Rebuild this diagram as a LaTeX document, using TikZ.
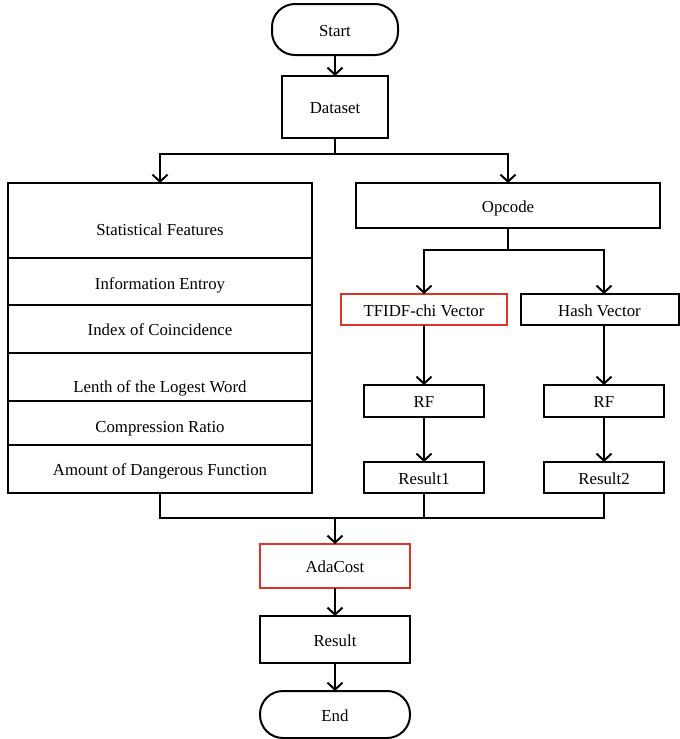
\documentclass[tikz,border=0pt]{standalone}
\usepackage{fontspec}
\setmainfont{Liberation Serif}
\usepackage{tikz}
\usetikzlibrary{shapes,arrows.meta}
\usetikzlibrary{positioning}
\definecolor{boxred}{RGB}{222,50,40}
\tikzstyle{block} = [draw, rectangle, line width=2pt, inner sep=0pt, outer sep=0pt,
text height=13pt, text depth=0pt]
\tikzstyle{terminal} = [block, rounded corners=23pt]
\tikzstyle{wire} = [draw, line width=2pt]
\tikzstyle{line} = [wire, -{Straight Barb[length=7pt,width=15pt]}]

\begin{document}
\begin{tikzpicture}[x=1pt, y=-1pt, font=\fontsize{16.8}{20}\selectfont,
	row/.style={block, minimum width=304pt},
	redbox/.style={block, draw=boxred}]
	\useasboundingbox (0,0) rectangle (680,739);
	\node [terminal, minimum width=126pt, minimum height=51pt] (start) at (335,29.5) {Start};
	\node [block, minimum width=106pt, minimum height=62pt] (data) at (335,107) {Dataset};
	%% statistical features
	\node [row, minimum height=75pt, text height=29pt] (sf) at (160,220.5) {Statistical Features};
	\node [row, minimum height=47pt, text height=16pt, below=0pt of sf] (ie) {Information Entroy};
	\node [row, minimum height=48pt, below=0pt of ie] (ic) {Index of Coincidence};
	\node [row, minimum height=48pt, text height=31pt, below=0pt of ic] (lw) {Lenth of the Logest Word};
	\node [row, minimum height=44pt, text height=19pt, below=0pt of lw] (cr) {Compression Ratio};
	\node [row, minimum height=48pt, below=0pt of cr] (df) {Amount of Dangerous Function};
	%% opcode
	\node [row, minimum height=45pt] (opc) at (508,205.5) {Opcode};
	\node [redbox, minimum width=166pt, minimum height=31pt] (tf) at (424,309.5) {TFIDF-chi Vector};
	\node [block, minimum width=158pt, minimum height=31pt] (hv) at (599.5,309.5) {Hash Vector};
	\node [block, minimum width=120pt, minimum height=32pt] (rf1) at (424,401) {RF};
	\node [block, minimum width=120pt, minimum height=32pt] (rf2) at (604,401) {RF};
	\node [block, minimum width=120pt, minimum height=31pt] (res1) at (424,477.5) {Result1};
	\node [block, minimum width=120pt, minimum height=31pt] (res2) at (604,477.5) {Result2};
	\node [redbox, minimum width=150pt, minimum height=44pt] (ada) at (335,566) {AdaCost};
	\node [block, minimum width=150pt, minimum height=47pt] (res) at (335,639.5) {Result};
	\node [terminal, minimum width=150pt, minimum height=47pt] (stop) at (335,714.5) {End};
	\coordinate (join) at (335,518);
	%% Flows
	\path [line] (start) -- (data);
	\path [wire] (data.south) -- ++(0,16) coordinate (split);
	\path [line] (split) -| (sf.north);
	\path [line] (split) -| (opc.north);
	\path [wire] (opc.south) -- ++(0,22) coordinate (fork);
	\path [line] (fork) -| (tf.north);
	\path [line] (fork) -| (rf2.north |- hv.north);
	\path [line] (tf) -- (rf1);
	\path [line] (rf2.north |- hv.south) -- (rf2);
	\path [line] (rf1) -- (res1);
	\path [line] (rf2) -- (res2);
	\path [wire] (df.south) |- (join) -| (res2.south);
	\path [wire] (res1.south) -- (res1.south |- join);
	\path [line] (join) -- (ada);
	\path [line] (ada) -- (res);
	\path [line] (res) -- (stop);
\end{tikzpicture}
\end{document}
